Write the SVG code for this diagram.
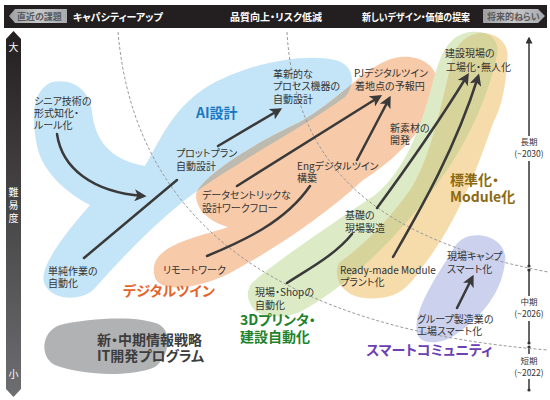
<svg xmlns="http://www.w3.org/2000/svg" width="550" height="400" viewBox="0 0 550 400">
<style>
text{font-family:"Noto Sans CJK JP","Noto Sans",sans-serif;font-feature-settings:"palt";}
.lb{font-size:10px;fill:#333;}
.bd{font-size:14px;font-weight:bold;}
.top{font-size:10px;font-weight:bold;fill:#fff;}
.tag{font-size:9px;font-weight:bold;fill:#58595b;}
.ax{font-size:8.5px;fill:#333;text-anchor:middle;}
.dash{fill:none;stroke:#9a9a9a;stroke-width:1;stroke-dasharray:3 2;}
.arr{fill:none;stroke:#3a3a3a;stroke-width:2.5;stroke-linecap:round;}
.arrh{marker-end:url(#ah);}
</style>
<defs>
<marker id="ah" markerUnits="userSpaceOnUse" markerWidth="12" markerHeight="12" viewBox="0 0 10 10" refX="7" refY="5" orient="auto">
<path d="M0,0 L10,5 L0,10 L2.5,5 z" fill="#3a3a3a"/>
</marker>
<marker id="ahs" markerUnits="userSpaceOnUse" markerWidth="7" markerHeight="7" viewBox="0 0 10 10" refX="8" refY="5" orient="auto">
<path d="M0,0 L10,5 L0,10 z" fill="#333"/>
</marker>
<linearGradient id="axg" x1="0" y1="0" x2="0" y2="1">
<stop offset="0" stop-color="#231f20"/>
<stop offset="1" stop-color="#6d6e70"/>
</linearGradient>
<linearGradient id="tagg" x1="0" y1="0" x2="1" y2="0">
<stop offset="0" stop-color="#9d9fa2"/>
<stop offset="0.5" stop-color="#c7c8ca"/>
<stop offset="1" stop-color="#a7a9ac"/>
</linearGradient>
<path id="pBlue" d="M52,82 C75,78 90,92 92,112 C95,140 110,160 145,166 C160,140 172,110 205,88 C240,66 300,52 335,60 C355,65 356,85 345,97 C300,130 230,165 185,200 C150,228 120,260 95,288 C85,300 55,303 45,285 C38,272 55,245 90,205 C70,195 45,175 38,150 C33,128 28,92 52,82 Z"/>
<path id="pOrange" d="M160,255 C175,240 205,235 228,227 C210,222 196,210 196,195 C197,182 240,150 300,122 C340,100 370,60 400,57 C425,55 445,70 435,100 C425,130 395,160 363,180 C323,217 273,250 230,273 C200,288 162,294 155,278 C152,268 155,260 160,255 Z"/>
<path id="pGreen" d="M252,283 C275,262 330,225 375,195 C405,170 420,130 432,85 C440,55 448,35 470,32 C490,30 500,40 497,55 C490,90 470,140 440,180 C400,235 350,285 300,312 C280,320 255,318 250,303 C246,295 248,288 252,283 Z"/>
<path id="pTan" d="M340,262 C360,248 385,225 410,190 C430,160 440,110 452,60 C456,42 470,32 485,33 C502,35 510,48 507,60 C506,90 500,110 493,123 C480,160 460,220 420,270 C410,285 400,296 380,298 C360,300 345,295 339,282 C336,274 336,266 340,262 Z"/>
<clipPath id="cBlue"><use href="#pBlue"/></clipPath>
<clipPath id="cGreen"><use href="#pGreen"/></clipPath>
</defs>
<rect width="550" height="400" fill="#fff"/>

<g id="header">
<rect x="4" y="5" width="543" height="23" fill="#231f20"/>
<polygon points="9,16 15,9 67,9 67,23 15,23" fill="url(#tagg)"/>
<text class="tag" x="17" y="20">直近の課題</text>
<text class="top" x="73" y="21">キャパシティーアップ</text>
<text class="top" x="230" y="21">品質向上・リスク低減</text>
<text class="top" x="362" y="21" textLength="108" lengthAdjust="spacingAndGlyphs">新しいデザイン・価値の提案</text>
<polygon points="483,9 538,9 545,16 538,23 483,23" fill="url(#tagg)"/>
<text class="tag" x="487" y="20">将来的ねらい</text>
</g>

<g id="axis-difficulty">
<polygon points="13.5,31 21,39 21,389 13.5,397 6,389 6,39" fill="url(#axg)"/>
<text x="13.5" y="51" font-size="10" fill="#fff" text-anchor="middle">大</text>
<text x="13.5" font-size="10" fill="#fff" text-anchor="middle"><tspan x="13.5" y="196">難</tspan><tspan x="13.5" y="209">易</tspan><tspan x="13.5" y="222">度</tspan></text>
<text x="13.5" y="378" font-size="10" fill="#fff" text-anchor="middle">小</text>
</g>

<g id="axis-term">
<line x1="529" y1="266" x2="529" y2="38" stroke="#333" stroke-width="1.5" marker-end="url(#ahs)"/>
<line x1="529" y1="270" x2="529" y2="343" stroke="#333" stroke-width="1.5"/>
<line x1="529" y1="347" x2="529" y2="390" stroke="#333" stroke-width="1.5"/>
<circle cx="529" cy="266" r="1.6" fill="#333"/>
<circle cx="529" cy="270" r="1.6" fill="#333"/>
<circle cx="529" cy="343" r="1.6" fill="#333"/>
<circle cx="529" cy="347" r="1.6" fill="#333"/>
<circle cx="529" cy="390" r="1.6" fill="#333"/>
<rect x="514" y="136" width="30" height="25" fill="#fff"/>
<text class="ax"><tspan x="529" y="145">長期</tspan><tspan x="529" y="157">(~2030)</tspan></text>
<rect x="514" y="296" width="30" height="25" fill="#fff"/>
<text class="ax"><tspan x="529" y="305">中期</tspan><tspan x="529" y="317">(~2026)</tspan></text>
<rect x="514" y="354" width="30" height="25" fill="#fff"/>
<text class="ax"><tspan x="529" y="364">短期</tspan><tspan x="529" y="376">(~2022)</tspan></text>
</g>

<g id="ai-design">
<use href="#pBlue" fill="#c4e5f7"/>
</g>
<g id="digital-twin">
<use href="#pOrange" fill="#f7caa9"/>
<use href="#pOrange" fill="#bdbbb0" clip-path="url(#cBlue)"/>
</g>
<g id="printer-3d">
<use href="#pGreen" fill="#dcebc6"/>
</g>
<g id="module">
<use href="#pTan" fill="#f6dcaa"/>
<use href="#pTan" fill="#d7d49b" clip-path="url(#cGreen)"/>
</g>
<g id="smart-community">
<path d="M470,236 C490,232 508,245 505,262 C502,290 485,315 455,335 C440,345 420,345 417,333 C413,315 430,285 450,255 C455,245 460,238 470,236 Z" fill="#ccd1ee"/>
</g>
<g id="it-program">
<path d="M60,325 C90,318 140,315 160,325 C172,333 170,355 155,367 C130,378 80,375 55,365 C40,358 40,332 60,325 Z" fill="#b1b2b4"/>
</g>

<g id="term-boundaries">
<path class="dash" d="M118,32 C135,230 290,330 548,350"/>
<path class="dash" d="M287,32 C295,170 380,240 548,272"/>
</g>

<g id="connectors">
<path class="arr arrh" d="M57,134 C62,168 92,192 143,196"/>
<path class="arr" d="M84,258 L177,180"/>
<path class="arr arrh" d="M218,146 L279,110"/>
<path class="arr arrh" d="M237,186 L379,97"/>
<path class="arr arrh" d="M357,160 L389,99"/>
<path class="arr" d="M207,256 C245,240 285,222 310,186"/>
<path class="arr" d="M287,283 C310,268 335,255 352,234"/>
<path class="arr arrh" d="M377,208 C405,170 440,120 467,76"/>
<path class="arr arrh" d="M393,257 C420,210 455,150 478,77"/>
<path class="arr arrh" d="M457,308 C462,298 467,288 472,278"/>
</g>

<g id="labels">
<text class="lb"><tspan x="34" y="105">シニア技術の</tspan><tspan x="34" y="117">形式知化・</tspan><tspan x="34" y="129">ルール化</tspan></text>
<text class="bd" x="196" y="118" fill="#1a78c2">AI設計</text>
<text class="lb"><tspan x="176" y="157">プロットプラン</tspan><tspan x="176" y="170">自動設計</tspan></text>
<text class="lb"><tspan x="273" y="78">革新的な</tspan><tspan x="273" y="90">プロセス機器の</tspan><tspan x="273" y="103">自動設計</tspan></text>
<text class="lb"><tspan x="354" y="77">PJデジタルツイン</tspan><tspan x="355" y="90">着地点の予報円</tspan></text>
<text class="lb"><tspan x="445" y="57">建設現場の</tspan><tspan x="446" y="71">工場化・無人化</tspan></text>
<text class="lb"><tspan x="390" y="132">新素材の</tspan><tspan x="390" y="144">開発</tspan></text>
<text class="lb"><tspan x="297" y="170">Engデジタルツイン</tspan><tspan x="297" y="182">構築</tspan></text>
<text class="lb"><tspan x="202" y="199">データセントリックな</tspan><tspan x="202" y="212">設計ワークフロー</tspan></text>
<text class="lb" x="163" y="274">リモートワーク</text>
<text class="lb"><tspan x="48" y="275">単純作業の</tspan><tspan x="48" y="287">自動化</tspan></text>
<text class="bd" x="123" y="296" fill="#e2632b">デジタルツイン</text>
<text class="bd" fill="#3d3d3d" font-size="13"><tspan x="97" y="345">新・中期情報戦略</tspan><tspan x="97" y="361">IT開発プログラム</tspan></text>
<text class="lb"><tspan x="255" y="296">現場・Shopの</tspan><tspan x="255" y="309">自動化</tspan></text>
<text class="bd" fill="#22822d"><tspan x="240" y="325">3Dプリンタ・</tspan><tspan x="240" y="342">建設自動化</tspan></text>
<text class="lb"><tspan x="345" y="219">基礎の</tspan><tspan x="345" y="232">現場製造</tspan></text>
<text class="lb"><tspan x="340" y="274">Ready-made Module</tspan><tspan x="340" y="286">プラント化</tspan></text>
<text class="bd" fill="#8c6a12"><tspan x="450" y="185">標準化・</tspan><tspan x="450" y="202">Module化</tspan></text>
<text class="lb"><tspan x="447" y="260">現場キャンプ</tspan><tspan x="447" y="273">スマート化</tspan></text>
<text class="lb"><tspan x="417" y="323">グループ製造業の</tspan><tspan x="417" y="335">工場スマート化</tspan></text>
<text class="bd" x="366" y="355" fill="#6c3fb3">スマートコミュニティ</text>
</g>
</svg>
